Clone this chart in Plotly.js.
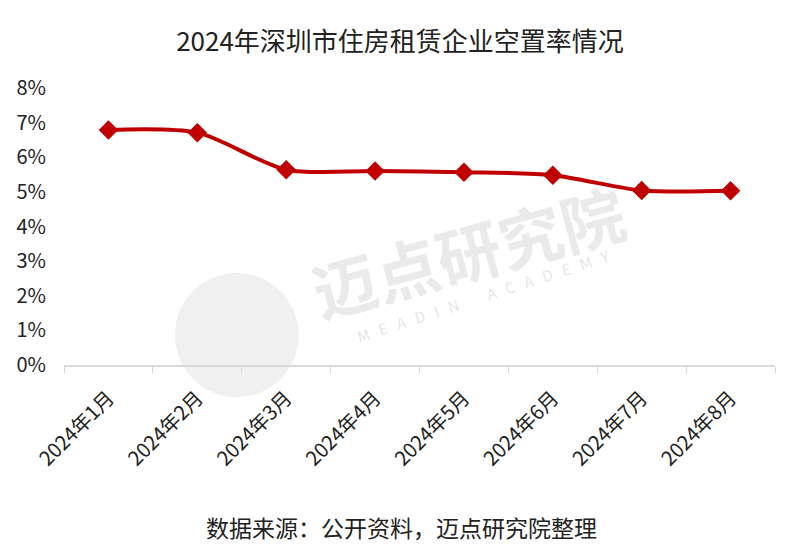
<!DOCTYPE html>
<html><head><meta charset="utf-8">
<script src="https://cdn.plot.ly/plotly-3.0.1.min.js"></script>
<style>html,body{margin:0;padding:0;background:#fff}#chart{width:800px;height:558px}</style>
</head><body><div id="chart"></div>
<script>
const months = ["2024年1月","2024年2月","2024年3月","2024年4月","2024年5月","2024年6月","2024年7月","2024年8月"];
const vacancyRate = [6.79, 6.71, 5.64, 5.60, 5.57, 5.48, 5.04, 5.03];
const yTicks = [0,1,2,3,4,5,6,7,8];
const yTickLabels = ["0%","1%","2%","3%","4%","5%","6%","7%","8%"];
const titleText = "2024年深圳市住房租赁企业空置率情况";
const sourceText = "数据来源：公开资料，迈点研究院整理";
const watermarkCn = "迈点研究院";
const watermarkEn = "MEADIN ACADEMY";

const font = "Noto Sans CJK SC, Microsoft YaHei, sans-serif";
const trace = {
  x: months, y: vacancyRate, type: "scatter", mode: "lines+markers",
  line: {color: "#c00000", width: 4, shape: "spline", smoothing: 0.8},
  marker: {symbol: "diamond", size: 15, color: "#c00000"},
  hoverinfo: "x+y"
};
const nb = "\u00A0";
const spacedEn = watermarkEn.split("").map(c => c === " " ? nb + nb + nb : c).join(nb + nb + nb);
const layout = {
  width: 800, height: 558,
  margin: {l: 64, r: 25, t: 88, b: 193},
  paper_bgcolor: "#fff", plot_bgcolor: "rgba(0,0,0,0)",
  font: {family: font, color: "#222"},
  title: {text: titleText, x: 0.5, xanchor: "center", y: 0.925, yanchor: "middle",
          font: {family: font, size: 26, color: "#222"}},
  showlegend: false,
  xaxis: {type: "category", range: [-0.5, 7.5], tickson: "boundaries",
          showline: true, linecolor: "#d9d9d9", linewidth: 1.5,
          ticks: "outside", ticklen: 6, tickcolor: "#d9d9d9",
          tickangle: -45, tickfont: {family: font, size: 20, color: "#222"},
          ticklabelstandoff: 12,
          showgrid: false, zeroline: false},
  yaxis: {range: [0, 8], tickvals: yTicks, ticktext: yTickLabels, tickmode: "array",
          tickfont: {family: font, size: 20, color: "#222"},
          showgrid: false, zeroline: false, showline: false, ticks: "", ticklabelstandoff: 17},
  annotations: [
    {text: sourceText, xref: "paper", yref: "paper", x: 0.475, y: -0.585, xanchor: "center", yanchor: "middle",
     showarrow: false, font: {family: font, size: 23, color: "#222"}},
    {text: "<b>" + watermarkCn + "</b>", xref: "paper", yref: "paper", x: 0.568, y: 0.415, xanchor: "center", yanchor: "middle",
     showarrow: false, textangle: -15, font: {family: font, size: 64, color: "rgba(220,220,220,0.6)"}},
    {text: spacedEn, xref: "paper", yref: "paper", x: 0.59, y: 0.25, xanchor: "center", yanchor: "middle",
     showarrow: false, textangle: -18, font: {family: font, size: 15, color: "rgba(215,215,215,0.65)"}}
  ],
  shapes: [
    {type: "circle", xref: "paper", yref: "paper", x0: 0.156, x1: 0.33, y0: -0.116, y1: 0.332,
     fillcolor: "rgba(225,225,225,0.5)", line: {width: 0}, layer: "below"}
  ]
};
Plotly.newPlot("chart", [trace], layout, {displayModeBar: false, staticPlot: true});
</script></body></html>
